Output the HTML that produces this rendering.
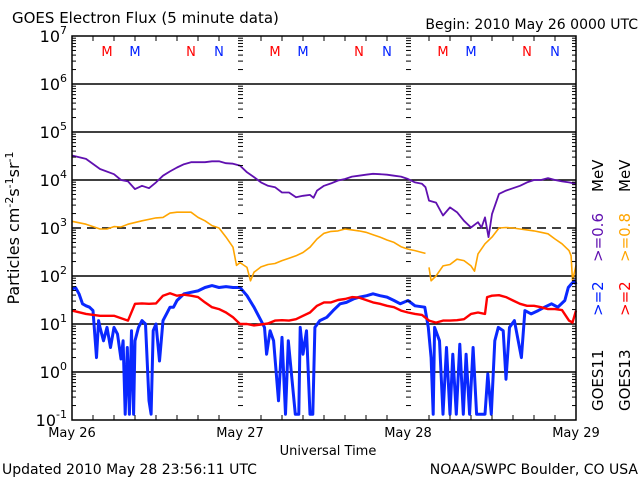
<!DOCTYPE html>
<html><head><meta charset="utf-8"><style>
body{margin:0;background:#fff;width:640px;height:480px;overflow:hidden}
svg{display:block;font-family:"DejaVu Sans","Liberation Sans",sans-serif}
</style></head><body>
<svg id="chart" width="640" height="480" viewBox="0 0 640 480" xmlns="http://www.w3.org/2000/svg">
<rect width="640" height="480" fill="#fff"/>
<text x="12" y="23" font-size="15">GOES Electron Flux (5 minute data)</text>
<text x="638" y="29" font-size="14" text-anchor="end">Begin: 2010 May 26 0000 UTC</text>
<text transform="translate(19,228) rotate(-90)" font-size="16" text-anchor="middle">Particles cm<tspan font-size="11" dy="-6">-2</tspan><tspan dy="6">s</tspan><tspan font-size="11" dy="-6">-1</tspan><tspan dy="6">sr</tspan><tspan font-size="11" dy="-6">-1</tspan></text>
<text x="328" y="455" font-size="13" text-anchor="middle">Universal Time</text>
<text x="2" y="474" font-size="14">Updated 2010 May 28 23:56:11 UTC</text>
<text x="638" y="474" font-size="14" text-anchor="end">NOAA/SWPC Boulder, CO USA</text>
<g id="grid"></g><g id="series"></g><g id="axes"></g>
<g font-size="15">
<text transform="translate(603,411) rotate(-90)">GOES11</text>
<text transform="translate(603,316) rotate(-90)" fill="#0020ff">&gt;=2</text>
<text transform="translate(603,262) rotate(-90)" fill="#6010b0">&gt;=0.6</text>
<text transform="translate(603,192) rotate(-90)">MeV</text>
<text transform="translate(630,411) rotate(-90)">GOES13</text>
<text transform="translate(630,316) rotate(-90)" fill="#ff0000">&gt;=2</text>
<text transform="translate(630,262) rotate(-90)" fill="#ffa500">&gt;=0.8</text>
<text transform="translate(630,192) rotate(-90)">MeV</text>
</g>
</svg>
<script>
const dayLabels=["May 26","May 27","May 28","May 29"];
const decades=[-1,0,1,2,3,4,5,6,7];
const markerHours=[5,9,17,21];
const markerLetters=["M","M","N","N"];
const markerColors=["#ff0000","#0020ff","#ff0000","#0020ff"];
// log10 flux values
const purpleHours=[0,2,4,6,7,8,9,10,11,12,13,14,15,16,17,18,19,20,21,22,23,24,25,26,27,28,29,30,31,32,33,34,34.5,35,36,37,38,39,40,41,42,43,44,45,46,47,48,49,50,50.5,51,52,53,54,55,56,57,58,58.5,59,59.5,60,61,62,63,64,65,66,67,68,69,70,71,72];
const purpleLog=[4.51,4.44,4.23,4.12,4.0,3.97,3.81,3.88,3.83,3.95,4.09,4.18,4.26,4.33,4.37,4.37,4.37,4.39,4.39,4.35,4.34,4.30,4.16,4.06,3.95,3.88,3.85,3.74,3.74,3.64,3.67,3.69,3.63,3.78,3.88,3.93,3.99,4.02,4.07,4.09,4.11,4.13,4.12,4.11,4.09,4.07,4.02,3.95,3.92,3.85,3.57,3.53,3.26,3.43,3.33,3.15,3.01,3.12,3.01,3.22,2.81,3.29,3.71,3.78,3.83,3.88,3.95,4.0,4.0,4.04,4.0,3.97,3.95,3.92];
const orangeHours=[0,2,4,5,6,7,8,10,12,13,14,15,16,17,18,19,20,21,22,23,23.5,24,24.5,25,25.5,26,27,28,29,30,31,32,33,34,35,36,37,38,39,40,41,42,43,44,45,46,47,48,49,50,50.5,null,51,51.3,52,53,54,55,56,57,57.5,58,59,60,61,62,63,64,65,66,67,68,69,70,71,71.3,71.5,72];
const orangeLog=[3.14,3.08,2.98,2.98,3.03,3.02,3.08,3.15,3.21,3.22,3.31,3.33,3.33,3.33,3.22,3.15,3.05,3.0,2.81,2.6,2.22,2.28,2.23,2.18,1.9,2.08,2.19,2.24,2.26,2.32,2.37,2.42,2.49,2.60,2.77,2.89,2.93,2.94,2.98,2.96,2.94,2.91,2.86,2.81,2.75,2.70,2.61,2.56,2.53,2.49,2.47,null,2.18,1.9,2.0,2.21,2.24,2.35,2.32,2.21,2.1,2.46,2.67,2.81,3.0,3.01,3.0,2.98,2.96,2.94,2.91,2.88,2.77,2.67,2.53,2.42,1.9,2.22];
const redHours=[0,2,4,6,8,9,10,11,12,13,14,15,16,17,18,19,20,21,22,23,24,25,26,27,28,29,30,31,32,33,34,35,36,37,38,39,40,41,42,43,44,45,46,47,48,49,50,51,52,53,54,55,56,57,58,59,59.3,60,61,62,63,64,65,66,67,68,69,70,71,71.5,72];
const redLog=[1.28,1.21,1.17,1.17,1.07,1.42,1.43,1.42,1.43,1.59,1.64,1.59,1.61,1.59,1.56,1.45,1.35,1.31,1.24,1.14,1.0,1.0,0.97,0.99,1.01,1.07,1.08,1.07,1.1,1.17,1.24,1.38,1.45,1.45,1.5,1.52,1.56,1.55,1.5,1.45,1.42,1.38,1.35,1.28,1.24,1.21,1.19,1.07,1.03,1.07,1.07,1.08,1.10,1.21,1.24,1.21,1.56,1.59,1.6,1.56,1.49,1.42,1.38,1.38,1.35,1.31,1.31,1.29,1.07,1.03,1.28];
const blueHours=[0,0.5,1,1.5,2,2.5,3,3.5,3.8,4,4.5,5,5.5,6,6.5,7,7.3,7.6,7.9,8.2,8.5,8.8,9,9.5,10,10.5,11,11.3,11.6,12,12.5,13,13.5,14,14.5,15,16,17,18,19,20,21,22,23,24,25,26,27,27.5,27.8,28.3,28.8,29.5,30,30.5,30.9,31.9,32.4,32.6,33,33.5,34,34.4,34.7,35.4,36.4,37.3,38.3,39.2,40.2,41.1,42.1,43,44,45,46,46.9,48,49,50.4,50.9,51.3,51.6,51.8,52.5,53,53.5,54,54.4,54.9,55.4,55.9,56.3,56.8,57.3,57.8,59,59.4,59.9,60.4,60.9,61.6,62,62.5,63.2,64.2,64.7,65.6,66.6,67.5,68.5,69.4,70.4,70.9,71.3,71.8,72];
const blueLog=[1.73,1.76,1.63,1.42,1.38,1.35,1.28,0.30,1.07,0.93,0.65,0.93,0.51,0.93,0.79,0.27,0.65,-0.88,0.51,-0.88,0.86,-0.88,0.65,0.93,1.07,1.0,-0.60,-0.88,0.86,1.0,0.23,1.07,1.21,1.35,1.35,1.49,1.63,1.66,1.69,1.76,1.80,1.76,1.78,1.76,1.76,1.59,1.35,1.07,0.93,0.37,0.86,0.65,-0.60,0.72,-0.88,0.65,-0.88,-0.88,0.93,0.37,0.86,-0.88,-0.88,0.93,1.07,1.14,1.28,1.42,1.45,1.52,1.56,1.59,1.63,1.59,1.56,1.49,1.42,1.49,1.38,1.35,0.93,0.30,-0.88,0.93,0.65,-0.88,0.51,-0.88,0.37,-0.88,0.58,-0.88,0.37,-0.88,0.51,-0.88,-0.88,-0.04,-0.88,0.65,0.93,0.86,-0.15,0.93,1.07,0.30,1.28,1.21,1.28,1.35,1.42,1.35,1.49,1.76,1.83,1.90,1.83];

const NS="http://www.w3.org/2000/svg";
const X0=72,X1=576,Y0=36,Y1=420,HOURS=72,LMIN=-1,LMAX=7;
function xs(h){return X0+(X1-X0)*h/HOURS;}
function ys(l){return Y1-(Y1-Y0)*(Math.max(l,LMIN)-LMIN)/(LMAX-LMIN);}
function mk(tag,attrs,parent){const e=document.createElementNS(NS,tag);for(const k in attrs)e.setAttribute(k,attrs[k]);parent.appendChild(e);return e;}
const grid=document.getElementById('grid'),axes=document.getElementById('axes'),ser=document.getElementById('series');

decades.forEach(d=>{
  if(d>LMIN&&d<LMAX){
    const gl=mk('line',{x1:X0,x2:X1,y1:ys(d),y2:ys(d),stroke:'#000','stroke-width':1.5},grid);
    if(d===3)gl.setAttribute('stroke-dasharray','9,6');
    
    
  }
  const t=mk('text',{x:67,y:ys(d)+6,'font-size':16,'text-anchor':'end'},axes);
  t.innerHTML='10<tspan font-size="11" dy="-8">'+d+'</tspan>';
  
  
  if(d<LMAX){for(let m=2;m<=9;m++){const y=ys(d+Math.log10(m));
    [[X0,X0+4],[X1-4,X1],[xs(24)-2,xs(24)+3],[xs(48)-2,xs(48)+3]].forEach(p=>mk('line',{x1:p[0],x2:p[1],y1:y,y2:y,stroke:'#000','stroke-width':1},axes));}}
});
for(let h=3;h<HOURS;h+=3){if(h%24===0)continue;
  mk('line',{x1:xs(h),x2:xs(h),y1:Y1,y2:Y1-5,stroke:'#000'},axes);
  mk('line',{x1:xs(h),x2:xs(h),y1:Y0,y2:Y0+5,stroke:'#000'},axes);}
const fr=mk('rect',{x:X0,y:Y0,width:X1-X0,height:Y1-Y0,fill:'none',stroke:'#000','stroke-width':1.5},axes);


dayLabels.forEach((lab,i)=>{
  const t=mk('text',{x:xs(i*24),y:437,'font-size':13,'text-anchor':'middle'},axes);t.textContent=lab;
  
  
});
for(let day=0;day<3;day++)markerHours.forEach((h,i)=>{
  const t=mk('text',{x:xs(day*24+h),y:56,'font-size':13,'text-anchor':'middle',fill:markerColors[i]},axes);t.textContent=markerLetters[i];
  
  
});
function draw(hs,vs,color,name,w){
  let d='',pen=false;
  for(let i=0;i<hs.length;i++){
    if(hs[i]===null||vs[i]===null){pen=false;continue;}
    d+=(pen?'L':'M')+xs(hs[i]).toFixed(1)+','+ys(vs[i]).toFixed(1);pen=true;}
  const p=mk('path',{d:d,fill:'none',stroke:color,'stroke-width':w,'stroke-linejoin':'round'},ser);
  
  
}
draw(orangeHours,orangeLog,'#ffa500','series-goes13-08mev',1.6);
draw(purpleHours,purpleLog,'#6010b0','series-goes11-06mev',1.8);
draw(blueHours,blueLog,'#0a28ff','series-goes11-2mev',3);
draw(redHours,redLog,'#ff0000','series-goes13-2mev',2.4);
</script>
</body></html>
